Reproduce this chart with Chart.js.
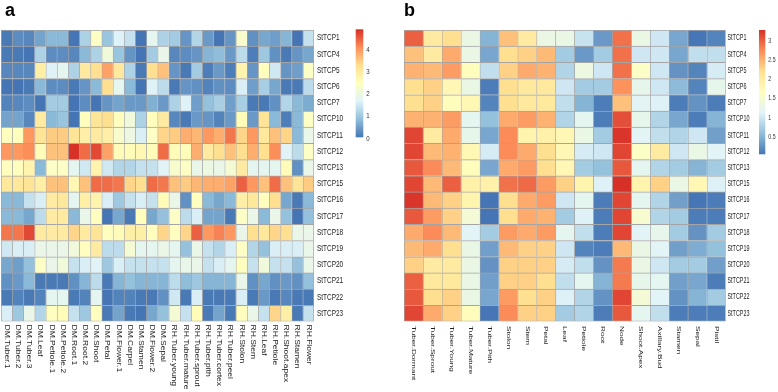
<!DOCTYPE html>
<html>
<head>
<meta charset="utf-8">
<script src="https://cdn.jsdelivr.net/npm/chart.js@4.4.1/dist/chart.umd.min.js"></script>
<style>
  body { margin: 0; background: #fff; }
  #wrap { position: relative; width: 778px; height: 392px; background: #fff; }
  canvas { position: absolute; top: 0; }
  #chartA { left: 0; }
  #chartB { left: 390px; }
</style>
</head>
<body>
<div id="wrap">
  <canvas id="chartA" width="390" height="392"></canvas>
  <canvas id="chartB" width="388" height="392"></canvas>
</div>
<script>
const genes = ['StTCP1', 'StTCP4', 'StTCP5', 'StTCP6', 'StTCP7', 'StTCP10', 'StTCP11', 'StTCP12', 'StTCP13',
  'StTCP15', 'StTCP16', 'StTCP17', 'StTCP18', 'StTCP19', 'StTCP20', 'StTCP21', 'StTCP22', 'StTCP23'];

const tissuesA = ['DM.Tuber.1', 'DM.Tuber.2', 'DM.Tuber.3', 'DM.Leaf', 'DM.Petiole.1', 'DM.Petiole.2', 'DM.Root.1',
  'DM.Root.2', 'DM.Shoot', 'DM.Petal', 'DM.Flower.1', 'DM.Carpel', 'DM.Stamen', 'DM.Flower.2', 'DM.Sepal',
  'RH.Tuber.young', 'RH.Tuber.mature', 'RH.Tuber.sprout', 'RH.Tuber.pith', 'RH.Tuber.cortex', 'RH.Tuber.peel',
  'RH.Stolon', 'RH.Stem', 'RH.Leaf', 'RH.Petiole', 'RH.Shoot.apex', 'RH.Stamen', 'RH.Flower'];

const tissuesB = ['Tuber.Dormant', 'Tuber.Sprout', 'Tuber.Young', 'Tuber.Mature', 'Tuber.Pith', 'Stolon', 'Stem',
  'Petal', 'Leaf', 'Petiole', 'Root', 'Node', 'Shoot.Apex', 'Axillary.Bud', 'Stamen', 'Sepal', 'Pistil'];

// one row per gene, one value per tissue
const exprA = [
  [0.1, 0.3, 0.25, 0.55, 0.8, 0.8, 0.05, 1.15, 2.4, 0.95, 1.65, 1.4, 0.05, 1.8, 1.15, 1.05, 0.4, 1.2, 0.45, 0.05, 0.4, 2.3, 0.35, 0.6, 0.5, 0.75, 0.05, 1.4],
  [0.1, 0.1, 0.05, 1.15, 0.3, 0.3, 0.25, 0.8, 1.15, 2.1, 0.95, 0.4, 0.05, 1.05, 1.9, 0.25, 0.3, 0.4, 0.75, 0.85, 0.45, 1.3, 0.15, 1.0, 0.35, 0.1, 0.4, 0.6],
  [0.25, 0.25, 0.25, 2.9, 1.65, 1.8, 1.15, 3.05, 3.3, 3.9, 3.05, 1.15, 0.1, 3.3, 3.6, 0.4, 0.1, 1.05, 0.15, 0.45, 0.15, 2.8, 0.4, 2.5, 1.5, 0.4, 0.5, 2.4],
  [0.05, 0.05, 0.1, 0.8, 0.3, 0.3, 0.1, 0.4, 0.8, 3.3, 1.8, 0.8, 0.05, 1.65, 1.3, 0.1, 0.4, 0.35, 0.2, 0.35, 0.3, 1.6, 0.5, 1.1, 0.6, 0.1, 0.1, 1.3],
  [0.2, 0.25, 0.3, 0.05, 1.05, 1.05, 0.05, 0.3, 0.05, 0.4, 0.55, 0.45, 0.45, 0.7, 0.45, 1.15, 1.65, 0.5, 0.9, 1.1, 0.5, 1.1, 0.1, 0.1, 0.35, 1.2, 0.8, 0.65],
  [0.55, 0.55, 0.25, 3.0, 0.8, 0.95, 0.05, 2.5, 3.15, 3.3, 2.5, 2.1, 1.15, 2.55, 3.0, 0.25, 0.1, 0.45, 0.4, 0.2, 0.45, 2.6, 0.45, 3.2, 0.8, 0.15, 0.8, 2.4],
  [2.5, 2.5, 4.0, 3.2, 3.5, 3.5, 3.2, 2.9, 3.0, 2.9, 2.3, 2.0, 1.6, 2.4, 3.4, 3.5, 3.8, 3.7, 4.0, 3.8, 4.3, 3.4, 4.0, 3.1, 3.6, 3.4, 0.8, 1.9],
  [4.0, 4.0, 4.1, 2.6, 3.6, 3.6, 4.9, 4.4, 4.7, 3.9, 2.6, 2.6, 2.7, 2.6, 4.4, 2.6, 2.6, 3.8, 3.0, 3.3, 3.6, 3.3, 3.8, 3.3, 4.1, 1.7, 1.3, 2.4],
  [2.5, 2.5, 2.8, 0.8, 2.4, 2.4, 1.8, 1.5, 2.8, 1.5, 1.2, 1.2, 1.4, 1.4, 1.7, 2.3, 2.4, 1.9, 2.0, 1.9, 2.2, 3.0, 1.8, 1.8, 1.8, 2.6, 0.35, 1.9],
  [3.1, 3.1, 3.2, 2.9, 3.6, 3.6, 2.7, 3.6, 4.4, 4.4, 4.3, 3.4, 3.3, 4.4, 4.3, 3.6, 3.5, 3.7, 3.8, 3.8, 3.9, 4.5, 4.0, 3.6, 4.4, 3.6, 3.2, 3.5],
  [0.8, 0.8, 1.4, 1.6, 3.0, 3.1, 1.8, 2.9, 2.8, 1.6, 1.0, 1.4, 1.6, 1.4, 2.6, 1.9, 0.35, 2.5, 0.8, 0.6, 0.8, 2.9, 3.1, 2.5, 3.3, 0.6, 0.1, 0.8],
  [0.8, 0.8, 0.6, 1.3, 3.0, 3.0, 0.8, 1.9, 2.5, 0.05, 0.6, 0.1, 2.5, 0.6, 0.9, 2.4, 1.3, 1.6, 0.55, 0.55, 0.1, 2.4, 1.9, 0.8, 1.9, 0.9, 0.05, 0.9],
  [4.3, 4.3, 4.7, 3.0, 3.0, 3.0, 3.4, 3.0, 3.2, 2.5, 2.6, 2.9, 2.9, 2.5, 3.4, 2.5, 3.4, 4.5, 4.0, 4.2, 4.0, 1.9, 3.3, 3.1, 3.4, 3.3, 1.9, 1.9],
  [1.5, 1.6, 1.6, 1.9, 1.9, 1.9, 2.1, 2.5, 3.0, 1.3, 1.3, 2.2, 1.8, 1.8, 1.9, 1.8, 0.9, 1.9, 1.4, 1.2, 1.6, 2.4, 1.2, 0.9, 1.6, 1.6, 1.6, 1.9],
  [0.6, 0.5, 0.9, 2.4, 1.9, 2.1, 1.4, 1.6, 1.7, 1.0, 1.6, 1.4, 1.4, 1.4, 1.4, 1.8, 1.9, 1.9, 1.4, 1.6, 1.8, 2.5, 1.4, 2.1, 1.4, 1.4, 0.9, 1.9],
  [0.35, 0.45, 0.8, 0.1, 0.1, 0.1, 0.35, 0.75, 1.3, 0.1, 0.75, 0.9, 0.75, 0.75, 0.75, 1.3, 0.85, 1.0, 0.75, 0.75, 0.75, 1.9, 0.35, 0.6, 0.35, 0.45, 0.35, 0.9],
  [0.1, 0.2, 0.1, 0.2, 1.8, 1.8, 0.1, 0.2, 1.8, 0.05, 0.2, 0.2, 0.1, 0.1, 0.35, 1.5, 0.1, 1.6, 0.1, 0.1, 0.1, 1.6, 0.1, 0.45, 0.1, 0.25, 0.1, 0.1],
  [1.6, 1.0, 1.9, 1.2, 2.5, 2.6, 1.4, 1.0, 2.5, 0.1, 0.55, 0.1, 0.05, 0.6, 0.9, 2.2, 1.4, 2.6, 0.1, 0.55, 0.1, 2.5, 1.9, 1.4, 3.4, 2.9, 0.1, 1.4]
];

const exprB = [
  [3.0, 2.0, 2.2, 1.3, 0.5, 2.4, 2.0, 1.3, 1.3, 0.95, 0.3, 2.9, 1.3, 1.0, 0.4, 0.05, 0.15],
  [2.4, 2.0, 2.55, 1.3, 0.4, 2.2, 2.3, 2.45, 0.7, 0.3, 0.7, 2.9, 1.0, 1.0, 0.4, 0.9, 0.9],
  [2.5, 2.45, 2.65, 1.7, 0.9, 2.3, 2.55, 2.5, 0.8, 1.35, 1.0, 2.9, 1.6, 1.0, 0.25, 0.15, 1.05],
  [2.2, 2.3, 1.8, 1.3, 0.1, 2.2, 2.05, 2.05, 1.0, 0.7, 0.7, 2.7, 1.25, 1.0, 0.55, 0.15, 1.25],
  [2.2, 2.3, 1.7, 1.8, 0.15, 2.2, 2.05, 2.05, 0.9, 0.5, 0.1, 2.4, 1.15, 1.1, 0.1, 0.25, 0.1],
  [2.5, 2.5, 2.65, 1.2, 0.6, 2.55, 2.65, 2.5, 0.8, 1.2, 0.1, 3.1, 1.25, 0.8, 0.4, 0.1, 0.5],
  [3.15, 2.0, 2.55, 1.25, 0.4, 2.75, 1.85, 1.9, 1.8, 1.3, 0.7, 3.25, 1.15, 0.9, 0.8, 1.0, 0.35],
  [3.15, 2.45, 2.5, 1.8, 1.05, 2.75, 2.55, 2.2, 1.8, 1.05, 1.0, 3.15, 1.6, 2.0, 1.0, 1.3, 1.15],
  [3.05, 2.75, 2.45, 1.7, 0.4, 2.55, 2.65, 2.2, 1.8, 0.7, 0.6, 3.05, 1.2, 0.8, 0.7, 0.5, 0.7],
  [3.15, 2.45, 3.0, 1.9, 1.9, 2.9, 2.95, 2.65, 2.3, 1.85, 1.1, 3.3, 1.85, 2.3, 1.3, 1.8, 1.1],
  [3.25, 2.45, 2.3, 1.85, 0.0, 2.2, 2.55, 2.65, 1.0, 1.2, 0.1, 3.15, 1.2, 0.8, 0.35, 0.05, 0.1],
  [3.05, 2.65, 2.3, 1.45, 0.0, 2.2, 2.55, 2.5, 0.7, 1.1, 0.1, 3.15, 1.5, 0.8, 0.7, 0.1, 0.1],
  [2.55, 2.75, 2.45, 1.15, 0.7, 2.65, 2.55, 2.65, 1.2, 0.9, 0.1, 3.15, 1.15, 1.25, 0.7, 0.25, 0.7],
  [2.45, 2.55, 2.2, 1.3, 0.35, 2.45, 2.3, 2.3, 1.0, 0.15, 0.1, 2.45, 1.3, 1.15, 0.35, 0.45, 0.6],
  [2.3, 2.0, 2.0, 1.3, 0.25, 2.3, 2.3, 2.3, 1.05, 0.9, 0.25, 2.85, 1.3, 1.0, 0.7, 0.7, 0.35],
  [3.0, 2.05, 2.05, 1.3, 0.35, 2.3, 2.3, 2.2, 0.9, 1.2, 0.5, 2.85, 1.25, 1.2, 0.35, 0.4, 0.1],
  [3.05, 2.2, 2.3, 1.3, 0.4, 2.65, 2.2, 2.3, 1.1, 0.8, 0.25, 3.15, 1.45, 1.15, 0.25, 0.5, 0.7],
  [3.15, 2.55, 2.3, 1.7, 0.05, 2.75, 2.3, 2.3, 0.7, 0.8, 0.1, 3.05, 1.2, 0.9, 0.1, 0.1, 0.1]
];

const rangeA = [0.05, 4.92];
const rangeB = [0.04, 3.28];
const keyTicksA = [0, 1, 2, 3, 4];
const keyTicksB = [0.5, 1, 1.5, 2, 2.5, 3];

const palette = ['#4575B4', '#91BFDB', '#E0F3F8', '#FFFFBF', '#FEE090', '#FC8D59', '#D73027'];
const FONT = '"Liberation Sans", Arial, Helvetica, sans-serif';

const paletteRgb = palette.map(h => [1, 3, 5].map(i => parseInt(h.slice(i, i + 2), 16)));

function colorFor(v, range) {
  let t = (v - range[0]) / (range[1] - range[0]);
  t = Math.min(1, Math.max(0, t));
  const pos = t * (paletteRgb.length - 1);
  const i = Math.min(Math.floor(pos), paletteRgb.length - 2);
  const f = pos - i;
  const a = paletteRgb[i], b = paletteRgb[i + 1];
  const c = a.map((x, k) => Math.round(x + (b[k] - x) * f));
  return `rgb(${c[0]},${c[1]},${c[2]})`;
}

// row / column names, colour key and panel letter
const heatLabels = {
  id: 'heatLabels',
  afterDraw(chart, args, o) {
    const { ctx, chartArea: area } = chart;
    const { x, y } = chart.scales;
    ctx.save();
    ctx.fillStyle = '#222';
    ctx.textAlign = 'left';
    ctx.textBaseline = 'middle';

    ctx.font = `${o.rowFont}px ${FONT}`;
    genes.forEach((g, i) => {
      ctx.save();
      ctx.translate(area.right + o.rowGap, y.getPixelForValue(i));
      ctx.scale(o.squeeze, 1);
      ctx.fillText(g, 0, 0);
      ctx.restore();
    });

    ctx.font = `${o.colFont}px ${FONT}`;
    o.cols.forEach((name, c) => {
      ctx.save();
      ctx.translate(x.getPixelForValue(c + 0.5), area.bottom + o.colGap);
      ctx.scale(o.squeeze, 1);
      ctx.rotate(Math.PI / 2);
      ctx.fillText(name, 0, 0);
      ctx.restore();
    });

    const k = o.key;
    const span = o.range[1] - o.range[0];
    const yOf = v => k.bottom - (v - o.range[0]) / span * (k.bottom - k.top);
    const grad = ctx.createLinearGradient(0, k.bottom, 0, k.top);
    palette.forEach((p, i) => grad.addColorStop(i / (palette.length - 1), p));
    ctx.fillStyle = grad;
    ctx.fillRect(k.left, k.top, k.width, k.bottom - k.top);

    ctx.fillStyle = '#333';
    ctx.font = `8px ${FONT}`;
    o.ticks.forEach(t => {
      ctx.save();
      ctx.translate(k.left + k.width + 3, yOf(t));
      ctx.scale(o.squeeze, 1);
      ctx.fillText(String(t), 0, 0);
      ctx.restore();
    });

    ctx.fillStyle = '#000';
    ctx.font = `bold 18px ${FONT}`;
    ctx.textBaseline = 'alphabetic';
    ctx.fillText(o.letter, o.letterX, 16);
    ctx.restore();
  }
};

function heatmap(id, cols, values, range, labelOpts, padding) {
  const nRow = genes.length, nCol = cols.length;
  const datasets = cols.map((name, c) => ({
    label: name,
    data: genes.map(() => 1),
    backgroundColor: genes.map((g, r) => colorFor(values[r][c], range)),
    borderColor: '#a4a4a4',
    borderWidth: ctx => ({
      top: 1, left: 1,
      right: c === nCol - 1 ? 1 : 0,
      bottom: ctx.dataIndex === nRow - 1 ? 1 : 0
    }),
    borderSkipped: false,
    barPercentage: 1,
    categoryPercentage: 1
  }));

  return new Chart(document.getElementById(id), {
    type: 'bar',
    data: { labels: genes, datasets },
    options: {
      indexAxis: 'y',
      responsive: false,
      animation: false,
      events: [],
      layout: { padding },
      scales: {
        x: { type: 'linear', stacked: true, min: 0, max: nCol, display: false },
        y: { stacked: true, display: false }
      },
      plugins: {
        legend: { display: false },
        tooltip: { enabled: false },
        heatLabels: Object.assign({ cols, range }, labelOpts)
      }
    },
    plugins: [heatLabels]
  });
}

heatmap('chartA', tissuesA, exprA, rangeA, {
  rowFont: 8.5, colFont: 8.5, squeeze: 0.76, rowGap: 3, colGap: 3,
  ticks: keyTicksA, key: { left: 355.7, width: 7.6, top: 29.3, bottom: 137.3 },
  letter: 'a', letterX: 5
}, { left: 1, top: 30, right: 76, bottom: 70.5 });

heatmap('chartB', tissuesB, exprB, rangeB, {
  rowFont: 8.3, colFont: 8.2, squeeze: 0.65, rowGap: 1.8, colGap: 4.5,
  ticks: keyTicksB, key: { left: 369, width: 6.3, top: 30, bottom: 154.3 },
  letter: 'b', letterX: 14
}, { left: 14, top: 30, right: 52.3, bottom: 70.5 });
</script>
</body>
</html>
